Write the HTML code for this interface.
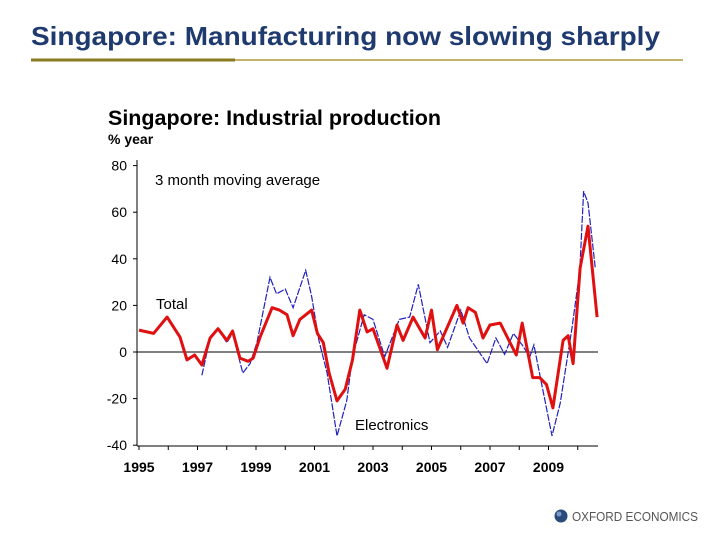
<!DOCTYPE html>
<html><head><meta charset="utf-8"><style>
body{margin:0;width:720px;height:540px;background:#fff;overflow:hidden;font-family:"Liberation Sans",Arial,sans-serif}
</style></head><body>
<svg width="720" height="540" viewBox="0 0 720 540" xmlns="http://www.w3.org/2000/svg" font-family="Liberation Sans, Arial, sans-serif">
<text x="31" y="45" font-size="26" font-weight="bold" fill="#1f3a6e" textLength="629" lengthAdjust="spacingAndGlyphs">Singapore: Manufacturing now slowing sharply</text>
<line x1="31" y1="60" x2="683" y2="60" stroke="#b09a3a" stroke-width="1.5"/>
<line x1="31" y1="60" x2="235" y2="60" stroke="#8a7a20" stroke-width="3"/>
<text x="108" y="125" font-size="21" font-weight="bold" fill="#000" textLength="333" lengthAdjust="spacingAndGlyphs">Singapore: Industrial production</text>
<text x="108" y="144" font-size="14" font-weight="bold" fill="#000">% year</text>
<text x="155" y="185" font-size="15" fill="#000">3 month moving average</text>
<text x="156" y="309" font-size="15" fill="#000">Total</text>
<text x="355" y="430" font-size="15" fill="#000">Electronics</text>
<g id="axes"></g>
<g id="series"></g>
<g>
<circle cx="561" cy="516" r="6.5" fill="#2a4a7a"/>
<circle cx="559" cy="514" r="2.5" fill="#7a9ac8"/>
<text x="572" y="521" font-size="13" fill="#555" textLength="126" lengthAdjust="spacingAndGlyphs">OXFORD ECONOMICS</text>
</g>
</svg>
<script>
const yTicks=[80,60,40,20,0,-20,-40];
const xTickYears=[1995,1997,1999,2001,2003,2005,2007,2009];
const totalYears=[1995,1995.5,1995.96,1996.4,1996.64,1996.9,1997.15,1997.43,1997.7,1998,1998.2,1998.45,1998.73,1998.9,1999.14,1999.55,1999.8,2000.06,2000.27,2000.5,2000.9,2001.1,2001.3,2001.5,2001.77,2002.05,2002.3,2002.55,2002.8,2003,2003.48,2003.82,2004.03,2004.37,2004.78,2005,2005.2,2005.87,2006.08,2006.25,2006.5,2006.76,2007,2007.35,2007.9,2008.1,2008.46,2008.7,2008.93,2009.15,2009.5,2009.67,2009.84,2010.08,2010.35,2010.66];
const totalValues=[9.4,8,15,6.4,-3.4,-1.3,-5.6,6,10,5,9,-2.6,-4,-2.6,6.4,19,18,16,7,14,18,8,4,-9,-21,-16,-3.4,18,8.6,10,-7,11.6,5,15,6,18,1,20,12.4,19,17,6,11.6,12.4,-1.3,12.4,-11,-11,-14,-24,5,7,-5,36,54,15];
const elecYears=[1997.15,1997.43,1997.7,1998,1998.2,1998.55,1998.8,1999.03,1999.48,1999.7,2000,2000.27,2000.7,2000.9,2001.15,2001.43,2001.77,2002.1,2002.3,2002.7,2003,2003.4,2003.9,2004.25,2004.55,2004.95,2005.3,2005.55,2006,2006.3,2006.9,2007.2,2007.5,2007.8,2008.1,2008.36,2008.5,2009.12,2009.4,2009.8,2010.07,2010.2,2010.35,2010.6];
const elecValues=[-10,6,10,4,8,-9,-5,4,32,25,27,19,35,24,5,-9,-36,-21,-2,16,14,-2,14,15,29,4,9,2,18,6,-5,6,-1,8,3,-2,3,-36,-22,10,35,69,64,36];
const NS="http://www.w3.org/2000/svg";
const xs=y=>139+(y-1995)*29.25;
const ys=v=>352-v*2.33;
const ax=document.getElementById('axes'),se=document.getElementById('series');
function mk(tag,attrs,parent){const e=document.createElementNS(NS,tag);for(const k in attrs)e.setAttribute(k,attrs[k]);parent.appendChild(e);return e;}
let l=mk('line',{x1:137,y1:160,x2:137,y2:446,stroke:'#000','stroke-width':1},ax);


l=mk('line',{x1:137,y1:446,x2:598,y2:446,stroke:'#000','stroke-width':1},ax);


l=mk('line',{x1:137,y1:ys(0),x2:598,y2:ys(0),stroke:'#000','stroke-width':1},ax);


yTicks.forEach(v=>{
 mk('line',{x1:133,y1:ys(v),x2:137,y2:ys(v),stroke:'#000'},ax);
 const t=mk('text',{x:127,y:ys(v)+5,'text-anchor':'end','font-size':14,fill:'#000'},ax);
 t.textContent=v;
 
 
});
for(let yr=1995;yr<=2010;yr++){mk('line',{x1:xs(yr),y1:446,x2:xs(yr),y2:450,stroke:'#000'},ax);}
xTickYears.forEach(yr=>{
 const t=mk('text',{x:xs(yr),y:472,'text-anchor':'middle','font-size':14,'font-weight':'bold',fill:'#000'},ax);
 t.textContent=yr;
 
 
});
const pts=(X,V)=>X.map((x,i)=>xs(x).toFixed(1)+','+ys(V[i]).toFixed(1)).join(' ');
let p=mk('polyline',{points:pts(elecYears,elecValues),fill:'none',stroke:'#2020c0','stroke-width':1.2,'stroke-dasharray':'7,1.5'},se);


p=mk('polyline',{points:pts(totalYears,totalValues),fill:'none',stroke:'#e01010','stroke-width':3,'stroke-linejoin':'round'},se);


</script>
</body></html>
